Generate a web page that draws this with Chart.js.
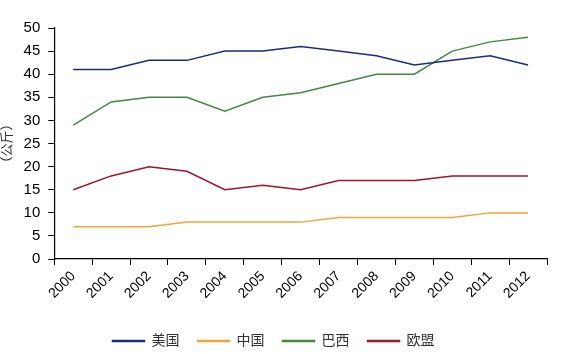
<!DOCTYPE html>
<html>
<head>
<meta charset="utf-8">
<script src="https://cdn.jsdelivr.net/npm/chart.js@4/dist/chart.umd.min.js"></script>
<style>
  html, body { margin: 0; padding: 0; background: #fff; }
  #wrap { width: 563px; height: 354px; }
</style>
</head>
<body>
<div id="wrap"><canvas id="meat_chart"></canvas></div>
<script>
var years = ["2000", "2001", "2002", "2003", "2004", "2005", "2006", "2007", "2008", "2009", "2010", "2011", "2012"];
var usa = [41, 41, 43, 43, 45, 45, 46, 45, 44, 42, 43, 44, 42];
var china = [7, 7, 7, 8, 8, 8, 8, 9, 9, 9, 9, 10, 10];
var brazil = [29, 34, 35, 35, 32, 35, 36, 38, 40, 40, 45, 47, 48];
var eu = [15, 18, 20, 19, 15, 16, 15, 17, 17, 17, 18, 18, 18];
var yTicks = [0, 5, 10, 15, 20, 25, 30, 35, 40, 45, 50];

var font = "'Liberation Sans', Arial, 'Noto Sans CJK SC', sans-serif";

function line(label, data, color) {
  return {
    label: label,
    data: data,
    borderColor: color,
    backgroundColor: color,
    borderWidth: 1.5,
    pointRadius: 0,
    tension: 0,
    fill: false,
  };
}

var ctx = document.getElementById("meat_chart").getContext("2d");
var myChart = new Chart(ctx, {
  type: "line",
  data: {
    labels: years,
    datasets: [
      line("美国", usa, "#1c2a80"),
      line("中国", china, "#f0a439"),
      line("巴西", brazil, "#3f8a3f"),
      line("欧盟", eu, "#a3122e"),
    ],
  },
  options: {
    responsive: true,
    maintainAspectRatio: false,
    animation: false,
    layout: { padding: { top: 28, right: 16, left: 0, bottom: -4 } },
    plugins: {
      legend: {
        position: "bottom",
        labels: {
          boxWidth: 32,
          boxHeight: 1,
          padding: 18,
          color: "#333",
          font: { family: font, size: 14 },
        },
      },
      tooltip: { enabled: false },
    },
    scales: {
      x: {
        offset: true,
        afterFit: function (axis) {
          axis.height += 11;
        },
        grid: {
          offset: true,
          drawOnChartArea: false,
          color: "#000",
          tickLength: 6,
        },
        border: { color: "#000", width: 1.2 },
        ticks: {
          color: "#000",
          maxRotation: 45,
          minRotation: 45,
          autoSkip: false,
          font: { family: font, size: 14 },
        },
      },
      y: {
        min: 0,
        max: 50,
        afterBuildTicks: function (axis) {
          axis.ticks = yTicks.map(function (v) { return { value: v }; });
        },
        grid: {
          drawOnChartArea: false,
          color: "#000",
          tickLength: 6,
        },
        border: { color: "#000", width: 1.2 },
        ticks: {
          color: "#000",
          padding: 8,
          font: { family: font, size: 15 },
        },
        title: {
          display: true,
          text: "（公斤）",
          color: "#333",
          padding: { top: 0, bottom: 0 },
          font: { family: font, size: 13 },
        },
      },
    },
  },
});
</script>
</body>
</html>
